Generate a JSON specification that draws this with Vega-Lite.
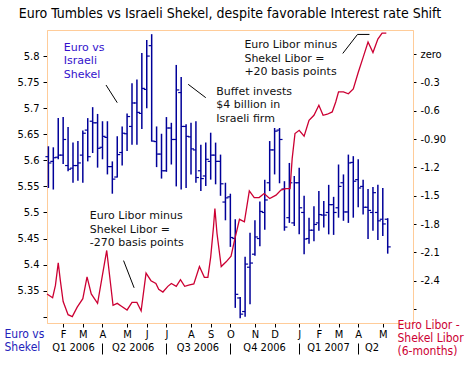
{
  "$schema": "https://vega.github.io/schema/vega-lite/v6.json",
  "width": 366,
  "height": 293,
  "autosize": {"type": "none"},
  "padding": {"left": 47, "top": 30, "right": 57, "bottom": 47},
  "background": "white",
  "title": {"text": "Euro Tumbles vs Israeli Shekel, despite favorable Interest rate Shift", "font": "DejaVu Sans Condensed, DejaVu Sans", "fontSize": 14, "fontWeight": "normal", "color": "#000000", "anchor": "middle", "frame": "group", "baseline": "bottom", "offset": -5},
  "config": {
    "view": {"stroke": "#FFCC99", "strokeWidth": 1},
    "axis": {"grid": false, "labelOverlap": false, "domainColor": "#FFCC99", "tickColor": "#000000", "labelColor": "#000000", "labelFont": "DejaVu Sans Condensed, DejaVu Sans", "labelFontSize": 11, "titleFont": "DejaVu Sans Condensed, DejaVu Sans", "titleFontWeight": "normal"}
  },
  "datasets": {
    "bars": [
      {"date": "2006-01-11", "open": 5.607, "high": 5.627, "low": 5.547, "close": 5.595},
      {"date": "2006-01-18", "open": 5.598, "high": 5.625, "low": 5.544, "close": 5.605},
      {"date": "2006-01-25", "open": 5.606, "high": 5.681, "low": 5.602, "close": 5.61},
      {"date": "2006-02-01", "open": 5.61, "high": 5.683, "low": 5.593, "close": 5.64},
      {"date": "2006-02-08", "open": 5.59, "high": 5.664, "low": 5.579, "close": 5.583},
      {"date": "2006-02-15", "open": 5.585, "high": 5.634, "low": 5.557, "close": 5.59},
      {"date": "2006-02-22", "open": 5.59, "high": 5.637, "low": 5.561, "close": 5.595},
      {"date": "2006-03-01", "open": 5.61, "high": 5.657, "low": 5.557, "close": 5.652},
      {"date": "2006-03-08", "open": 5.658, "high": 5.681, "low": 5.598, "close": 5.607},
      {"date": "2006-03-15", "open": 5.675, "high": 5.702, "low": 5.614, "close": 5.672},
      {"date": "2006-03-22", "open": 5.672, "high": 5.689, "low": 5.586, "close": 5.623},
      {"date": "2006-03-29", "open": 5.625, "high": 5.675, "low": 5.602, "close": 5.646},
      {"date": "2006-04-05", "open": 5.644, "high": 5.675, "low": 5.573, "close": 5.588},
      {"date": "2006-04-12", "open": 5.588, "high": 5.598, "low": 5.536, "close": 5.564},
      {"date": "2006-04-19", "open": 5.568, "high": 5.646, "low": 5.567, "close": 5.611},
      {"date": "2006-04-26", "open": 5.615, "high": 5.665, "low": 5.59, "close": 5.652},
      {"date": "2006-05-03", "open": 5.651, "high": 5.69, "low": 5.618, "close": 5.684},
      {"date": "2006-05-10", "open": 5.665, "high": 5.748, "low": 5.63, "close": 5.71},
      {"date": "2006-05-17", "open": 5.71, "high": 5.755, "low": 5.63, "close": 5.692},
      {"date": "2006-05-24", "open": 5.69, "high": 5.806, "low": 5.66, "close": 5.738},
      {"date": "2006-05-31", "open": 5.736, "high": 5.831, "low": 5.7, "close": 5.8},
      {"date": "2006-06-07", "open": 5.82, "high": 5.842, "low": 5.636, "close": 5.637},
      {"date": "2006-06-14", "open": 5.636, "high": 5.665, "low": 5.587, "close": 5.612},
      {"date": "2006-06-21", "open": 5.612, "high": 5.651, "low": 5.565, "close": 5.58},
      {"date": "2006-06-28", "open": 5.58, "high": 5.683, "low": 5.578, "close": 5.662},
      {"date": "2006-07-05", "open": 5.662, "high": 5.672, "low": 5.592, "close": 5.64},
      {"date": "2006-07-12", "open": 5.64, "high": 5.783, "low": 5.55, "close": 5.735},
      {"date": "2006-07-19", "open": 5.73, "high": 5.76, "low": 5.544, "close": 5.665},
      {"date": "2006-07-26", "open": 5.665, "high": 5.669, "low": 5.547, "close": 5.646},
      {"date": "2006-08-02", "open": 5.645, "high": 5.672, "low": 5.573, "close": 5.622},
      {"date": "2006-08-09", "open": 5.62, "high": 5.675, "low": 5.557, "close": 5.567},
      {"date": "2006-08-16", "open": 5.58, "high": 5.63, "low": 5.541, "close": 5.565},
      {"date": "2006-08-23", "open": 5.57, "high": 5.634, "low": 5.551, "close": 5.602},
      {"date": "2006-08-30", "open": 5.598, "high": 5.653, "low": 5.563, "close": 5.61},
      {"date": "2006-09-06", "open": 5.61, "high": 5.634, "low": 5.554, "close": 5.598},
      {"date": "2006-09-13", "open": 5.598, "high": 5.611, "low": 5.532, "close": 5.555},
      {"date": "2006-09-20", "open": 5.52, "high": 5.557, "low": 5.485, "close": 5.528},
      {"date": "2006-09-27", "open": 5.53, "high": 5.536, "low": 5.434, "close": 5.452},
      {"date": "2006-10-04", "open": 5.45, "high": 5.487, "low": 5.317, "close": 5.343},
      {"date": "2006-10-11", "open": 5.336, "high": 5.338, "low": 5.297, "close": 5.305},
      {"date": "2006-10-18", "open": 5.31, "high": 5.415, "low": 5.3, "close": 5.401},
      {"date": "2006-10-25", "open": 5.395, "high": 5.461, "low": 5.324, "close": 5.403},
      {"date": "2006-11-01", "open": 5.42, "high": 5.485, "low": 5.417, "close": 5.453},
      {"date": "2006-11-08", "open": 5.45, "high": 5.521, "low": 5.435, "close": 5.502},
      {"date": "2006-11-15", "open": 5.5, "high": 5.563, "low": 5.467, "close": 5.524},
      {"date": "2006-11-22", "open": 5.557, "high": 5.637, "low": 5.541, "close": 5.62},
      {"date": "2006-11-29", "open": 5.62, "high": 5.662, "low": 5.573, "close": 5.656},
      {"date": "2006-12-06", "open": 5.658, "high": 5.662, "low": 5.556, "close": 5.64},
      {"date": "2006-12-13", "open": 5.545, "high": 5.56, "low": 5.465, "close": 5.472},
      {"date": "2006-12-20", "open": 5.49, "high": 5.595, "low": 5.48, "close": 5.557},
      {"date": "2006-12-27", "open": 5.48, "high": 5.57, "low": 5.474, "close": 5.557},
      {"date": "2007-01-03", "open": 5.557, "high": 5.586, "low": 5.458, "close": 5.509},
      {"date": "2007-01-10", "open": 5.5, "high": 5.532, "low": 5.42, "close": 5.449},
      {"date": "2007-01-17", "open": 5.45, "high": 5.49, "low": 5.44, "close": 5.466},
      {"date": "2007-01-24", "open": 5.466, "high": 5.512, "low": 5.445, "close": 5.477},
      {"date": "2007-01-31", "open": 5.48, "high": 5.541, "low": 5.465, "close": 5.496},
      {"date": "2007-02-07", "open": 5.495, "high": 5.522, "low": 5.471, "close": 5.495},
      {"date": "2007-02-14", "open": 5.5, "high": 5.553, "low": 5.458, "close": 5.515},
      {"date": "2007-02-21", "open": 5.515, "high": 5.53, "low": 5.457, "close": 5.5},
      {"date": "2007-02-28", "open": 5.509, "high": 5.592, "low": 5.49, "close": 5.55},
      {"date": "2007-03-07", "open": 5.557, "high": 5.573, "low": 5.484, "close": 5.501},
      {"date": "2007-03-14", "open": 5.501, "high": 5.611, "low": 5.48, "close": 5.595},
      {"date": "2007-03-21", "open": 5.596, "high": 5.608, "low": 5.49, "close": 5.56},
      {"date": "2007-03-28", "open": 5.563, "high": 5.602, "low": 5.51, "close": 5.547},
      {"date": "2007-04-04", "open": 5.55, "high": 5.563, "low": 5.496, "close": 5.51},
      {"date": "2007-04-11", "open": 5.51, "high": 5.545, "low": 5.449, "close": 5.504},
      {"date": "2007-04-18", "open": 5.5, "high": 5.549, "low": 5.465, "close": 5.538},
      {"date": "2007-04-25", "open": 5.5, "high": 5.553, "low": 5.447, "close": 5.484},
      {"date": "2007-05-02", "open": 5.487, "high": 5.547, "low": 5.455, "close": 5.478},
      {"date": "2007-05-09", "open": 5.487, "high": 5.489, "low": 5.421, "close": 5.434}
    ],
    "spread": [
      {"date": "2006-01-09", "spread": -2.54},
      {"date": "2006-01-17", "spread": -2.58},
      {"date": "2006-01-21", "spread": -2.45},
      {"date": "2006-01-25", "spread": -2.21},
      {"date": "2006-01-28", "spread": -2.4},
      {"date": "2006-02-01", "spread": -2.62},
      {"date": "2006-02-08", "spread": -2.76},
      {"date": "2006-02-14", "spread": -2.78},
      {"date": "2006-02-21", "spread": -2.68},
      {"date": "2006-03-01", "spread": -2.59},
      {"date": "2006-03-07", "spread": -2.36},
      {"date": "2006-03-13", "spread": -2.54},
      {"date": "2006-03-22", "spread": -2.64},
      {"date": "2006-03-28", "spread": -2.38},
      {"date": "2006-04-04", "spread": -2.08},
      {"date": "2006-04-13", "spread": -2.66},
      {"date": "2006-04-19", "spread": -2.64},
      {"date": "2006-04-25", "spread": -2.67},
      {"date": "2006-05-03", "spread": -2.71},
      {"date": "2006-05-10", "spread": -2.63},
      {"date": "2006-05-17", "spread": -2.63},
      {"date": "2006-05-23", "spread": -2.72},
      {"date": "2006-05-30", "spread": -2.32},
      {"date": "2006-06-06", "spread": -2.4},
      {"date": "2006-06-13", "spread": -2.43},
      {"date": "2006-06-17", "spread": -2.49},
      {"date": "2006-06-23", "spread": -2.52},
      {"date": "2006-06-30", "spread": -2.46},
      {"date": "2006-07-05", "spread": -2.43},
      {"date": "2006-07-12", "spread": -2.46},
      {"date": "2006-07-18", "spread": -2.39},
      {"date": "2006-07-24", "spread": -2.46},
      {"date": "2006-07-31", "spread": -2.445},
      {"date": "2006-08-06", "spread": -2.434},
      {"date": "2006-08-14", "spread": -2.25},
      {"date": "2006-08-21", "spread": -2.365},
      {"date": "2006-08-26", "spread": -2.365},
      {"date": "2006-08-30", "spread": -2.15},
      {"date": "2006-09-03", "spread": -1.83},
      {"date": "2006-09-05", "spread": -1.635},
      {"date": "2006-09-08", "spread": -1.9},
      {"date": "2006-09-14", "spread": -2.25},
      {"date": "2006-09-21", "spread": -2.2},
      {"date": "2006-09-28", "spread": -2.14},
      {"date": "2006-10-03", "spread": -1.97},
      {"date": "2006-10-10", "spread": -1.75},
      {"date": "2006-10-17", "spread": -1.776},
      {"date": "2006-10-24", "spread": -1.448},
      {"date": "2006-10-31", "spread": -1.52},
      {"date": "2006-11-07", "spread": -1.52},
      {"date": "2006-11-14", "spread": -1.477},
      {"date": "2006-11-22", "spread": -1.53},
      {"date": "2006-12-01", "spread": -1.494},
      {"date": "2006-12-08", "spread": -1.441},
      {"date": "2006-12-15", "spread": -1.424},
      {"date": "2006-12-21", "spread": -1.424},
      {"date": "2006-12-24", "spread": -1.107},
      {"date": "2006-12-28", "spread": -0.842},
      {"date": "2007-01-03", "spread": -0.807},
      {"date": "2007-01-10", "spread": -0.87},
      {"date": "2007-01-17", "spread": -0.701},
      {"date": "2007-01-24", "spread": -0.648},
      {"date": "2007-01-31", "spread": -0.542},
      {"date": "2007-02-06", "spread": -0.648},
      {"date": "2007-02-12", "spread": -0.637},
      {"date": "2007-02-19", "spread": -0.613},
      {"date": "2007-02-24", "spread": -0.507},
      {"date": "2007-02-28", "spread": -0.4},
      {"date": "2007-03-07", "spread": -0.4},
      {"date": "2007-03-14", "spread": -0.42},
      {"date": "2007-03-21", "spread": -0.37},
      {"date": "2007-03-28", "spread": -0.195},
      {"date": "2007-04-04", "spread": -0.035},
      {"date": "2007-04-11", "spread": 0.127},
      {"date": "2007-04-18", "spread": 0.016},
      {"date": "2007-04-25", "spread": 0.159},
      {"date": "2007-05-01", "spread": 0.222},
      {"date": "2007-05-07", "spread": 0.222}
    ],
    "noteBlue": [
      {"date": "2006-02-02", "value": 5.8276, "label": ["Euro vs", "Israeli", "Shekel"]}
    ],
    "noteBlack": [
      {"date": "2006-09-07", "value": 5.7426, "label": ["Buffet invests", "$4 billion in", "Israeli firm"]},
      {"date": "2006-10-17", "value": 5.832, "label": ["Euro Libor minus", "Shekel Libor =", "+20 basis points"]},
      {"date": "2006-03-11", "value": 5.504, "label": ["Euro Libor minus", "Shekel Libor =", "-270 basis points"]}
    ],
    "links": [
      {"date": "2006-04-03", "value": 5.7445, "date2": "2006-04-19", "value2": 5.7106},
      {"date": "2006-07-29", "value": 5.7458, "date2": "2006-08-23", "value2": 5.7202},
      {"date": "2007-03-06", "value": 5.805, "date2": "2007-03-27", "value2": 5.8415},
      {"date": "2007-03-27", "value": 5.8415, "date2": "2007-04-13", "value2": 5.8415},
      {"date": "2006-04-28", "value": 5.4077, "date2": "2006-05-13", "value2": 5.3555}
    ],
    "quarters": [
      {"date": "2006-02-15"}, {"date": "2006-05-11"}, {"date": "2006-08-11"},
      {"date": "2006-11-14"}, {"date": "2007-02-13"}, {"date": "2007-04-16"}
    ],
    "qsep": [
      {"date": "2006-03-29"}, {"date": "2006-06-28"}, {"date": "2006-09-27"},
      {"date": "2007-01-03"}, {"date": "2007-03-28"}
    ]
  },
  "layer": [
    {
      "data": {"name": "bars"},
      "mark": {"type": "rule", "color": "#000099", "strokeWidth": 1.5},
      "encoding": {
        "x": {
          "field": "date", "type": "temporal",
          "scale": {"type": "utc", "domain": [{"year": 2006, "month": 1, "date": 9, "utc": true}, {"year": 2007, "month": 6, "date": 14, "utc": true}]},
          "axis": {
            "orient": "bottom", "title": null,
            "values": [
              {"year": 2006, "month": 2, "date": 1, "utc": true},
              {"year": 2006, "month": 3, "date": 1, "utc": true},
              {"year": 2006, "month": 3, "date": 29, "utc": true},
              {"year": 2006, "month": 5, "date": 3, "utc": true},
              {"year": 2006, "month": 5, "date": 31, "utc": true},
              {"year": 2006, "month": 6, "date": 28, "utc": true},
              {"year": 2006, "month": 8, "date": 2, "utc": true},
              {"year": 2006, "month": 8, "date": 30, "utc": true},
              {"year": 2006, "month": 9, "date": 27, "utc": true},
              {"year": 2006, "month": 11, "date": 1, "utc": true},
              {"year": 2006, "month": 11, "date": 29, "utc": true},
              {"year": 2007, "month": 1, "date": 3, "utc": true},
              {"year": 2007, "month": 1, "date": 31, "utc": true},
              {"year": 2007, "month": 2, "date": 28, "utc": true},
              {"year": 2007, "month": 3, "date": 28, "utc": true},
              {"year": 2007, "month": 5, "date": 2, "utc": true}
            ],
            "labelExpr": "substring(utcFormat(time(datum.value) + 518400000, '%b'), 0, 1)",
            "tickSize": 4, "labelPadding": 1, "labelBaseline": "top", "labelAlign": "center",
            "labelFlush": false, "labelOverlap": false
          }
        },
        "y": {
          "field": "low", "type": "quantitative",
          "scale": {"domain": [5.288, 5.85], "zero": false, "nice": false},
          "axis": {
            "orient": "left",
            "values": [5.3, 5.35, 5.4, 5.45, 5.5, 5.55, 5.6, 5.65, 5.7, 5.75, 5.8],
            "labelExpr": "datum.value < 5.32 ? '' : format(datum.value, '.2~f')",
            "tickSize": 4, "labelPadding": 4, "labelOverlap": false, "labelFlush": false,
            "title": ["Euro vs", "Shekel"], "titleAngle": 0, "titleAlign": "left", "titleBaseline": "top",
            "titleX": -43, "titleY": 298, "titleColor": "#2222BB", "titleFontSize": 12, "titleLineHeight": 13.5
          }
        },
        "y2": {"field": "high"}
      }
    },
    {
      "data": {"name": "bars"},
      "mark": {"type": "rule", "color": "#000099", "strokeWidth": 1.2, "xOffset": -3, "x2Offset": 0},
      "encoding": {
        "x": {"field": "date", "type": "temporal", "axis": null},
        "x2": {"field": "date"},
        "y": {"field": "open", "type": "quantitative", "axis": null, "scale": {"domain": [5.288, 5.85], "zero": false, "nice": false}}
      }
    },
    {
      "data": {"name": "bars"},
      "mark": {"type": "rule", "color": "#000099", "strokeWidth": 1.2, "xOffset": 0, "x2Offset": 3},
      "encoding": {
        "x": {"field": "date", "type": "temporal", "axis": null},
        "x2": {"field": "date"},
        "y": {"field": "close", "type": "quantitative", "axis": null, "scale": {"domain": [5.288, 5.85], "zero": false, "nice": false}}
      }
    },
    {
      "data": {"name": "links", "format": {"parse": {"date": "date", "date2": "date"}}},
      "mark": {"type": "rule", "color": "#000000", "strokeWidth": 1},
      "encoding": {
        "x": {"field": "date", "type": "temporal", "axis": null},
        "x2": {"field": "date2"},
        "y": {"field": "value", "type": "quantitative", "axis": null, "scale": {"domain": [5.288, 5.85], "zero": false, "nice": false}},
        "y2": {"field": "value2"}
      }
    },
    {
      "data": {"name": "noteBlue"},
      "mark": {"type": "text", "align": "left", "baseline": "top", "font": "DejaVu Sans", "fontSize": 11, "lineHeight": 13.5, "color": "#3311CC"},
      "encoding": {
        "x": {"field": "date", "type": "temporal", "axis": null},
        "y": {"field": "value", "type": "quantitative", "axis": null, "scale": {"domain": [5.288, 5.85], "zero": false, "nice": false}},
        "text": {"field": "label", "type": "nominal"}
      }
    },
    {
      "data": {"name": "noteBlack"},
      "mark": {"type": "text", "align": "left", "baseline": "top", "font": "DejaVu Sans", "fontSize": 11, "lineHeight": 13.3, "color": "#111111"},
      "encoding": {
        "x": {"field": "date", "type": "temporal", "axis": null},
        "y": {"field": "value", "type": "quantitative", "axis": null, "scale": {"domain": [5.288, 5.85], "zero": false, "nice": false}},
        "text": {"field": "label", "type": "nominal"}
      }
    },
    {
      "data": {"name": "spread"},
      "mark": {"type": "line", "color": "#CC0033", "strokeWidth": 1.3},
      "encoding": {
        "x": {"field": "date", "type": "temporal", "axis": null},
        "y": {
          "field": "spread", "type": "quantitative",
          "scale": {"domain": [-2.848, 0.255], "zero": false, "nice": false},
          "axis": {
            "orient": "right",
            "values": [0, -0.3, -0.6, -0.9, -1.2, -1.5, -1.8, -2.1, -2.4, -2.7],
            "labelExpr": "datum.value == 0 ? 'zero' : (abs(datum.value + 0.9) < 0.01 ? '-0.90' : (datum.value < -2.6 ? '' : '-' + format(abs(datum.value), '.1f')))",
            "tickSize": 3, "labelPadding": 4, "labelOverlap": false, "labelFlush": false,
            "title": ["Euro Libor -", "Shekel Libor", "(6-months)"], "titleAngle": 0, "titleAlign": "left", "titleBaseline": "top",
            "titleX": -16, "titleY": 289, "titleColor": "#CC0033", "titleFontSize": 12, "titleLineHeight": 13.3
          }
        }
      }
    },
    {
      "data": {"name": "quarters"},
      "mark": {"type": "rule", "opacity": 0},
      "encoding": {
        "x": {
          "field": "date", "type": "temporal",
          "axis": {
            "orient": "bottom", "title": null, "domain": false, "ticks": false, "tickSize": 0,
            "offset": 16, "labelPadding": 2, "labelBaseline": "top", "labelFlush": false, "labelOverlap": false,
            "values": [
              {"year": 2006, "month": 2, "date": 15, "utc": true},
              {"year": 2006, "month": 5, "date": 11, "utc": true},
              {"year": 2006, "month": 8, "date": 11, "utc": true},
              {"year": 2006, "month": 11, "date": 14, "utc": true},
              {"year": 2007, "month": 2, "date": 13, "utc": true},
              {"year": 2007, "month": 4, "date": 16, "utc": true}
            ],
            "labelExpr": "utcyear(datum.value) == 2007 && utcmonth(datum.value) == 3 ? 'Q2' : 'Q' + (floor(utcmonth(datum.value) / 3) + 1) + ' ' + utcyear(datum.value)"
          }
        }
      }
    },
    {
      "data": {"name": "qsep"},
      "mark": {"type": "rule", "opacity": 0},
      "encoding": {
        "x": {
          "field": "date", "type": "temporal",
          "axis": {
            "orient": "bottom", "title": null, "domain": false, "labels": false, "ticks": true,
            "tickSize": 11, "tickColor": "#000000", "offset": 20,
            "values": [
              {"year": 2006, "month": 3, "date": 29, "utc": true},
              {"year": 2006, "month": 6, "date": 28, "utc": true},
              {"year": 2006, "month": 9, "date": 27, "utc": true},
              {"year": 2007, "month": 1, "date": 3, "utc": true},
              {"year": 2007, "month": 3, "date": 28, "utc": true}
            ]
          }
        }
      }
    }
  ],
  "resolve": {"scale": {"y": "independent"}, "axis": {"x": "independent", "y": "independent"}}
}
